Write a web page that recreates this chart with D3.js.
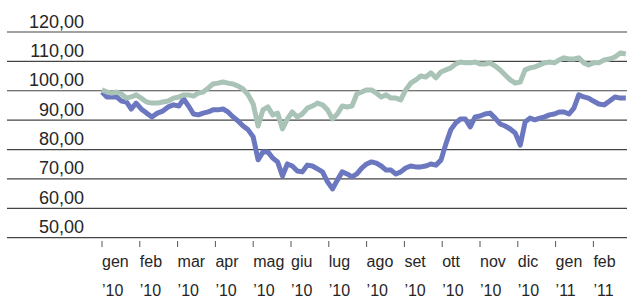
<!DOCTYPE html>
<html>
<head>
<meta charset="utf-8">
<script src="https://cdn.jsdelivr.net/npm/d3@7"></script>
<style>
  body { margin: 0; background: #fff; }
  svg { display: block; }
  text { font-family: "Liberation Sans", Arial, sans-serif; fill: #262626; }
</style>
</head>
<body>
<svg id="chart" width="627" height="300"></svg>
<script>
// values sampled every 4 days from 1 Jan 2010
const startDate = new Date(2010, 0, 1);

const greenSeries = [
  100.3, 99.6, 99.2, 99.6, 98.9, 97.5, 97.9, 98.6, 97.5, 96.2,
  95.8, 95.8, 96.2, 96.5, 97.5, 97.9, 98.6, 98.6, 98.2, 99.2,
  99.6, 100.9, 102.3, 102.6, 103.0, 102.6, 102.3, 101.6, 100.6, 98.6,
  95.5, 88.0, 93.5, 94.5, 91.8, 92.4, 87.0, 90.4, 92.8, 91.1,
  92.1, 94.1, 94.8, 95.8, 95.2, 93.5, 90.4, 92.1, 94.8, 94.5,
  94.8, 98.9, 99.6, 100.3, 100.3, 99.2, 97.9, 98.6, 97.5, 97.5,
  96.9, 100.3, 102.6, 103.7, 105.0, 104.7, 106.1, 104.4, 106.4, 107.1,
  107.8, 109.1, 109.8, 109.5, 109.5, 109.8, 109.1, 109.1, 109.5, 108.4,
  107.1, 105.4, 103.7, 102.6, 103.0, 107.1, 107.8, 108.1, 108.8, 109.5,
  109.8, 109.5, 110.5, 111.2, 110.8, 110.8, 111.2, 109.5, 108.8, 109.5,
  109.5, 110.5, 110.8, 111.5, 112.9, 112.5
];

const blueSeries = [
  99.6, 97.9, 97.9, 97.9, 96.5, 96.2, 93.8, 95.8, 93.8, 92.4,
  91.1, 92.4, 93.1, 94.5, 95.2, 94.8, 97.2, 94.8, 92.1, 91.8,
  92.4, 92.8, 93.5, 93.5, 93.8, 92.8, 91.1, 89.7, 88.0, 86.7,
  84.3, 76.5, 79.2, 79.2, 77.1, 75.8, 71.0, 75.1, 74.4, 72.7,
  72.4, 74.7, 74.4, 73.4, 72.4, 69.0, 66.6, 69.6, 72.4, 71.7,
  70.7, 71.7, 73.7, 75.1, 75.8, 75.4, 74.4, 73.0, 73.0, 71.7,
  72.4, 73.7, 74.4, 74.1, 74.1, 74.4, 75.1, 74.7, 76.4, 81.9,
  86.7, 89.0, 90.4, 90.4, 87.7, 91.1, 91.4, 92.1, 92.4, 90.7,
  88.7, 88.0, 87.0, 85.6, 81.5, 89.4, 90.7, 90.1, 90.7, 91.1,
  91.8, 92.1, 92.8, 92.8, 92.1, 94.1, 98.6, 97.9, 97.5, 96.5,
  95.5, 95.2, 96.5, 97.9, 97.5, 97.5
];

const monthLabels = ['gen', 'feb', 'mar', 'apr', 'mag', 'giu', 'lug', 'ago', 'set', 'ott', 'nov', 'dic', 'gen', 'feb'];
const yearLabels = ['\u201910', '\u201910', '\u201910', '\u201910', '\u201910', '\u201910', '\u201910', '\u201910', '\u201910', '\u201910', '\u201910', '\u201910', '\u201911', '\u201911'];
const yTicks = [50, 60, 70, 80, 90, 100, 110, 120];

const dates = d3.timeDay.range(startDate, d3.timeDay.offset(startDate, 4 * greenSeries.length), 4);

// month index with fraction inside month, so every month gets the same width
function monthPos(d) {
  const y = d.getFullYear(), m = d.getMonth();
  const days = new Date(y, m + 1, 0).getDate();
  return (y - 2010) * 12 + m + (d.getDate() - 1) / days;
}

const svg = d3.select('#chart');
const x = d3.scaleLinear().domain([0, 1]).range([102, 139.8]);
const y = d3.scaleLinear().domain([50, 120]).range([237.7, 32]);
const fmt = v => d3.format('.2f')(v).replace('.', ',');

// grid + labels
const grid = svg.append('g');
grid.selectAll('line').data(yTicks).enter().append('line')
  .attr('x1', 7).attr('x2', 627)
  .attr('y1', d => y(d)).attr('y2', d => y(d))
  .attr('stroke', '#444').attr('stroke-width', 1.2);
grid.selectAll('text').data(yTicks).enter().append('text')
  .attr('x', 84).attr('y', d => y(d) - 4.5)
  .attr('text-anchor', 'end')
  .attr('font-size', 18)
  .text(fmt);

// x ticks + labels
const xa = svg.append('g');
const months = d3.range(monthLabels.length);
xa.selectAll('line').data(months).enter().append('line')
  .attr('x1', d => x(d)).attr('x2', d => x(d))
  .attr('y1', 241).attr('y2', 247)
  .attr('stroke', '#555').attr('stroke-width', 1);
xa.selectAll('text.m').data(months).enter().append('text')
  .attr('class', 'm')
  .attr('x', d => x(d)).attr('y', 267)
  .attr('font-size', 16)
  .text(d => monthLabels[d]);
xa.selectAll('text.yr').data(months).enter().append('text')
  .attr('class', 'yr')
  .attr('x', d => x(d)).attr('y', 296)
  .attr('font-size', 16)
  .text(d => yearLabels[d]);

const line = d3.line()
  .x((d, i) => x(monthPos(dates[i])))
  .y(d => y(d));

svg.append('path').datum(blueSeries)
  .attr('d', line)
  .attr('fill', 'none')
  .attr('stroke', '#6b77bf')
  .attr('stroke-width', 5)
  .attr('stroke-linejoin', 'round');

svg.append('path').datum(greenSeries)
  .attr('d', line)
  .attr('fill', 'none')
  .attr('stroke', '#a9c3b7')
  .attr('stroke-width', 5)
  .attr('stroke-linejoin', 'round');
</script>
</body>
</html>
